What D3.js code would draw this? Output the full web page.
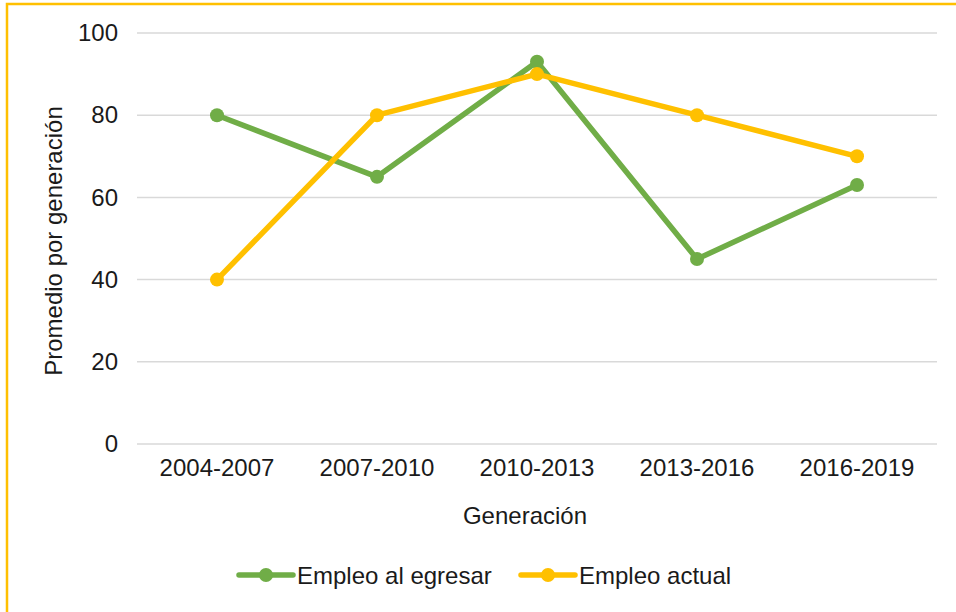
<!DOCTYPE html>
<html>
<head>
<meta charset="utf-8">
<script src="https://cdn.jsdelivr.net/npm/d3@7"></script>
<style>
  html, body { margin: 0; padding: 0; background: #fff; }
  svg { display: block; font-family: "Liberation Sans", Arial, sans-serif; }
</style>
</head>
<body>
<svg id="chart" width="956" height="612"></svg>
<script>
// Generations and the two employment averages
const categories = ["2004-2007", "2007-2010", "2010-2013", "2013-2016", "2016-2019"];
const empleoAlEgresar = [80, 65, 93, 45, 63];
const empleoActual = [40, 80, 90, 80, 70];
const yTicks = [0, 20, 40, 60, 80, 100];

const series = [
  { name: "Empleo al egresar", values: empleoAlEgresar, color: "#70AD47" },
  { name: "Empleo actual", values: empleoActual, color: "#FFC000" }
];

const FONT = 24;
const TEXT_COLOR = "#1a1a1a";
const LINE_W = 5.5;
const MARK_R = 7;

const svg = d3.select("#chart");

// Outer frame (only the top and left edges fall inside the view)
svg.append("rect")
  .attr("x", 7).attr("y", 4)
  .attr("width", 1000).attr("height", 700)
  .attr("fill", "none")
  .attr("stroke", "#FFC000")
  .attr("stroke-width", 2.5);

const plot = { left: 137, right: 937, top: 33, bottom: 444 };

const x = d3.scaleBand().domain(categories).range([plot.left, plot.right]);
const y = d3.scaleLinear().domain([0, 100]).range([plot.bottom, plot.top]);

// Horizontal gridlines
svg.append("g")
  .selectAll("line")
  .data(yTicks)
  .join("line")
  .attr("x1", plot.left).attr("x2", plot.right)
  .attr("y1", d => y(d)).attr("y2", d => y(d))
  .attr("stroke", "#D9D9D9")
  .attr("stroke-width", 1.5);

// Y axis labels
const yAxis = d3.axisLeft(y).tickValues(yTicks).tickSize(0).tickPadding(0);
const gy = svg.append("g").attr("transform", `translate(${plot.left - 19},0)`).call(yAxis);
gy.select(".domain").remove();
gy.selectAll("text")
  .attr("font-size", FONT)
  .attr("fill", TEXT_COLOR)
  .attr("font-family", "Liberation Sans, Arial, sans-serif");

// X axis labels
const xAxis = d3.axisBottom(x).tickSize(0).tickPadding(0);
const gx = svg.append("g").attr("transform", `translate(0,${plot.bottom + 15})`).call(xAxis);
gx.select(".domain").remove();
gx.selectAll("text")
  .attr("font-size", FONT)
  .attr("fill", TEXT_COLOR)
  .attr("font-family", "Liberation Sans, Arial, sans-serif");

// Axis titles
svg.append("text")
  .attr("x", 525)
  .attr("y", 524)
  .attr("text-anchor", "middle")
  .attr("font-size", FONT)
  .attr("fill", TEXT_COLOR)
  .text("Generación");

svg.append("text")
  .attr("transform", "translate(62,241) rotate(-90)")
  .attr("text-anchor", "middle")
  .attr("font-size", FONT)
  .attr("fill", TEXT_COLOR)
  .text("Promedio por generación");

// Lines and markers
const line = d3.line()
  .x((d, i) => x(categories[i]) + x.bandwidth() / 2)
  .y(d => y(d));

series.forEach(s => {
  const g = svg.append("g");
  g.append("path")
    .datum(s.values)
    .attr("d", line)
    .attr("fill", "none")
    .attr("stroke", s.color)
    .attr("stroke-width", LINE_W)
    .attr("stroke-linejoin", "round")
    .attr("stroke-linecap", "round");
  g.selectAll("circle")
    .data(s.values)
    .join("circle")
    .attr("cx", (d, i) => x(categories[i]) + x.bandwidth() / 2)
    .attr("cy", d => y(d))
    .attr("r", MARK_R)
    .attr("fill", s.color);
});

// Legend
const legendItems = [
  { s: series[0], x0: 239 },
  { s: series[1], x0: 521 }
];
const ly = 575;
legendItems.forEach(({ s, x0 }) => {
  const g = svg.append("g");
  g.append("line")
    .attr("x1", x0).attr("x2", x0 + 54)
    .attr("y1", ly).attr("y2", ly)
    .attr("stroke", s.color)
    .attr("stroke-width", LINE_W)
    .attr("stroke-linecap", "round");
  g.append("circle")
    .attr("cx", x0 + 27).attr("cy", ly)
    .attr("r", MARK_R)
    .attr("fill", s.color);
  g.append("text")
    .attr("x", x0 + 58)
    .attr("y", ly + 8.5)
    .attr("font-size", FONT)
    .attr("fill", TEXT_COLOR)
    .text(s.name);
});
</script>
</body>
</html>
